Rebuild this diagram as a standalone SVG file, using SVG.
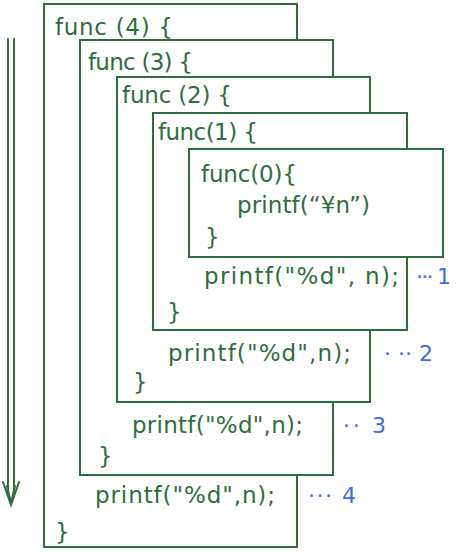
<svg xmlns="http://www.w3.org/2000/svg" width="456" height="554" viewBox="0 0 456 554">
<style>
.box{fill:#fff;stroke:#2f6e3c;stroke-width:2}
.t{font-family:"DejaVu Sans","Liberation Sans",sans-serif;font-size:23px;fill:#2f6e3c}
.n{font-family:"DejaVu Sans","Liberation Sans",sans-serif;font-size:22px;fill:#3a6ee6}
.arr{fill:none;stroke:#2f6e3c;stroke-width:2;stroke-linecap:round}
</style>
<rect width="456" height="554" fill="#fff"/>
<g id="connectors">
<line class="arr" x1="8" y1="39" x2="8" y2="492"/>
<line class="arr" x1="14" y1="39" x2="14" y2="492"/>
<polyline class="arr" points="3,482 11,505 19,482"/>
<polyline class="arr" points="7,486 11,503 15,486"/>
</g>
<g id="func4">
<rect class="box" x="44" y="4" width="253" height="543"/>
<text class="t" x="55" y="35" textLength="118" lengthAdjust="spacing">func (4) {</text>
<text class="t" x="95" y="503" textLength="180" lengthAdjust="spacing">printf("%d",n);</text>
<text class="t" x="55" y="540">}</text>
<text class="n" x="308" y="503" textLength="48" lengthAdjust="spacing">··· 4</text>
</g>
<g id="func3">
<rect class="box" x="80" y="40" width="253" height="435"/>
<text class="t" x="88" y="70" textLength="105" lengthAdjust="spacing">func (3) {</text>
<text class="t" x="132" y="433" textLength="171" lengthAdjust="spacing">printf("%d",n);</text>
<text class="t" x="98" y="464">}</text>
<text class="n" x="343" y="433" textLength="43" lengthAdjust="spacing">·· 3</text>
</g>
<g id="func2">
<rect class="box" x="117" y="77" width="253" height="325"/>
<text class="t" x="122" y="103" textLength="110" lengthAdjust="spacing">func (2) {</text>
<text class="t" x="168" y="361" textLength="183" lengthAdjust="spacing">printf("%d",n);</text>
<text class="t" x="133" y="390">}</text>
<text class="n" x="384" y="361" textLength="49" lengthAdjust="spacing">· ·· 2</text>
</g>
<g id="func1">
<rect class="box" x="153" y="113" width="254" height="217"/>
<text class="t" x="158" y="140" textLength="100" lengthAdjust="spacing">func(1) {</text>
<text class="t" x="204" y="284" textLength="195" lengthAdjust="spacing">printf("%d", n);</text>
<text class="t" x="167" y="320">}</text>
<text class="n" x="416" y="284" textLength="35" lengthAdjust="spacing">··· 1</text>
</g>
<g id="func0">
<rect class="box" x="189" y="149" width="254" height="108"/>
<text class="t" x="201" y="182" textLength="96" lengthAdjust="spacing">func(0){</text>
<text class="t" x="237" y="213" textLength="133" lengthAdjust="spacing">printf(“¥n”)</text>
<text class="t" x="205" y="245">}</text>
</g>
</svg>
